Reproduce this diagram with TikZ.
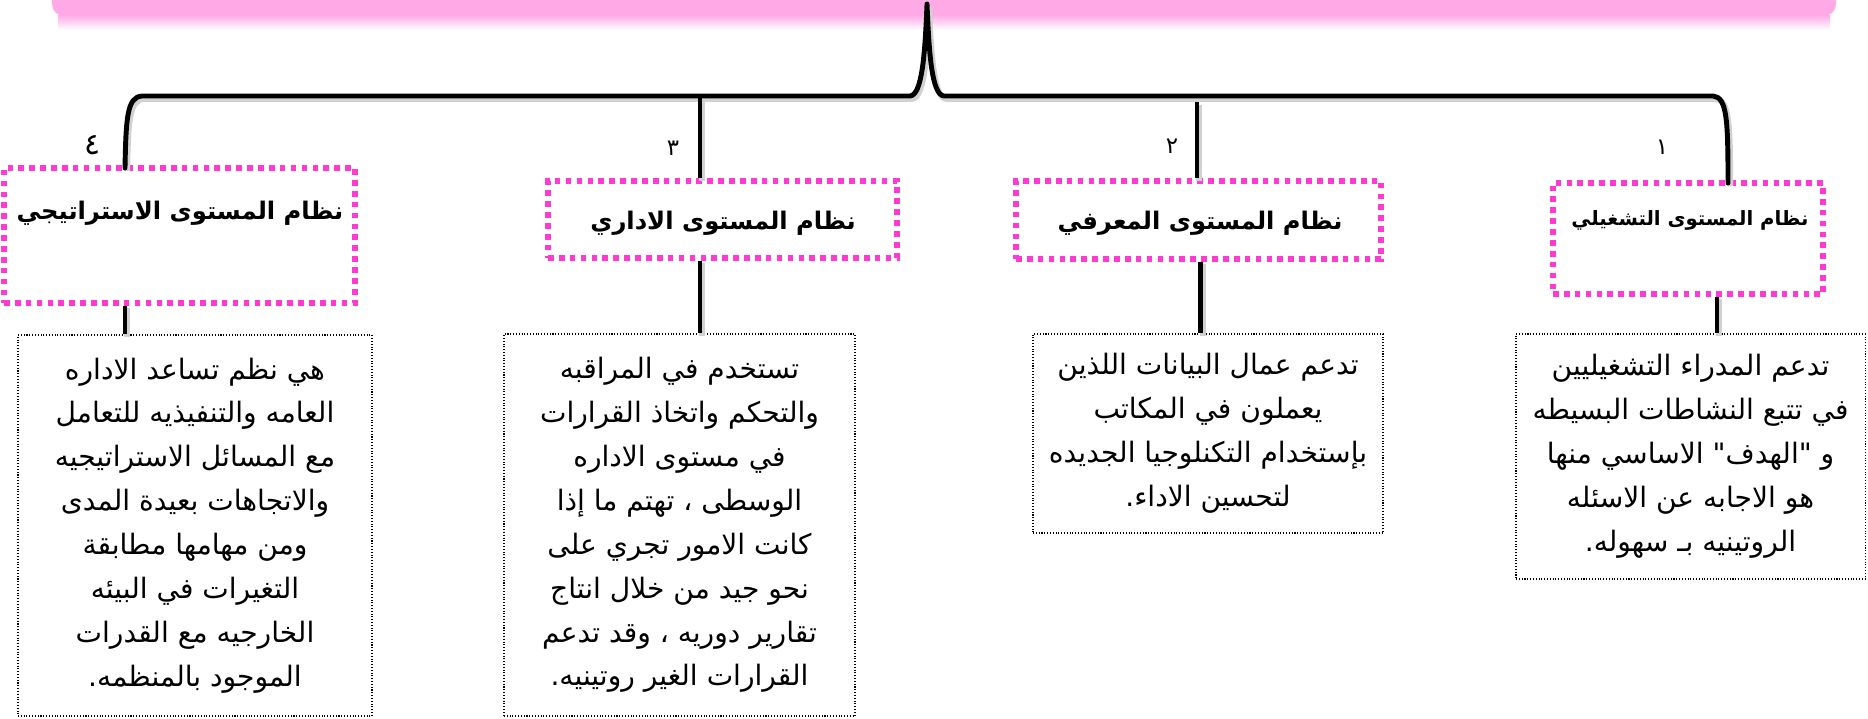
\documentclass[tikz,border=0pt]{standalone}
\usepackage{fontspec}
\newfontfamily\arabicfont[Script=Arabic]{DejaVu Sans}
\TeXXeTstate=1
\newlength{\unitpx}
\setlength{\unitpx}{0.02cm}
\newcommand{\ar}[1]{\beginR #1\endR}
\definecolor{pinkbar}{RGB}{255,170,230}
\definecolor{pinkdot}{RGB}{255,58,208}

\begin{document}
\begin{tikzpicture}[x=0.02cm,y=-0.02cm,
  titlebox/.style={draw=pinkdot,line width=3pt,dash pattern=on 3.2pt off 3pt,inner sep=0pt},
  titletext/.style={font=\arabicfont\bfseries\fontsize{13.8}{16}\selectfont,inner sep=0pt},
  descbox/.style={draw,densely dotted,line width=0.6pt,align=center,inner sep=0pt,font=\arabicfont\fontsize{16}{25}\selectfont},
  num/.style={font=\arabicfont\fontsize{13}{15}\selectfont,inner sep=0pt},
  conn/.style={line width=2.8pt,preaction={draw=black!18,line width=3.4pt,transform canvas={xshift=1.2pt,yshift=-1.6pt}}}]
    \useasboundingbox (0,0) rectangle (1868,718);
    \fill[pinkbar,rounded corners=12\unitpx] (52,-30) rectangle (1836,16);
    \shade[top color=pinkbar,bottom color=white] (58,15) rectangle (1830,30);
    \node[titlebox,minimum width=351\unitpx,minimum height=135\unitpx] (t4) at (179.5,235.5) {};
    \node[titlebox,minimum width=349\unitpx,minimum height=77\unitpx] (t3) at (722.5,219.5) {};
    \node[titlebox,minimum width=365\unitpx,minimum height=78\unitpx] (t2) at (1198.5,220) {};
    \node[titlebox,minimum width=270\unitpx,minimum height=111\unitpx] (t1) at (1688,238.5) {};
    \node[titletext] (t4txt) at (180,213) {\ar{نظام المستوى الاستراتيجي}};
    \node[titletext] (t3txt) at (723,223) {\ar{نظام المستوى الاداري}};
    \node[titletext] (t2txt) at (1200,223) {\ar{نظام المستوى المعرفي}};
    \node[titletext,font=\arabicfont\bfseries\fontsize{11.2}{13}\selectfont] (t1txt) at (1690,220) {\ar{نظام المستوى التشغيلي}};
    \node[num,font=\arabicfont\fontsize{17}{20}\selectfont] (n4) at (93,145) {٤};
    \node[num] (n3) at (673,148) {٣};
    \node[num] (n2) at (1172,146) {٢};
    \node[num] (n1) at (1662,147) {١};
    \node[descbox,minimum width=354\unitpx,minimum height=381\unitpx] (d4) at (195,525.5) {\ar{هي نظم تساعد الاداره}\\\ar{العامه والتنفيذيه للتعامل}\\\ar{مع المسائل الاستراتيجيه}\\\ar{والاتجاهات بعيدة المدى}\\\ar{ومن مهامها مطابقة}\\\ar{التغيرات في البيئه}\\\ar{الخارجيه مع القدرات}\\\ar{الموجود بالمنظمه.}};
    \node[descbox,minimum width=351\unitpx,minimum height=382\unitpx] (d3) at (679.5,525) {\ar{تستخدم في المراقبه}\\\ar{والتحكم واتخاذ القرارات}\\\ar{في مستوى الاداره}\\\ar{الوسطى ، تهتم ما إذا}\\\ar{كانت الامور تجري على}\\\ar{نحو جيد من خلال انتاج}\\\ar{تقارير دوريه ، وقد تدعم}\\\ar{القرارات الغير روتينيه.}};
    \node[descbox,minimum width=350\unitpx,minimum height=199\unitpx] (d2) at (1208,433.5) {\ar{تدعم عمال البيانات اللذين}\\\ar{يعملون في المكاتب}\\\ar{بإستخدام التكنلوجيا الجديده}\\\ar{لتحسين الاداء.}};
    \node[descbox,minimum width=349\unitpx,minimum height=245\unitpx] (d1) at (1690.5,456.5) {\ar{تدعم المدراء التشغيليين}\\\ar{في تتبع النشاطات البسيطه}\\\ar{و "الهدف" الاساسي منها}\\\ar{هو الاجابه عن الاسئله}\\\ar{الروتينيه بـ سهوله.}};
    \coordinate (tip) at (927,4);
    \coordinate (leg4) at (125,168);
    \coordinate (leg1) at (1728,183);
    \coordinate (bar3) at (700,96);
    \coordinate (bar2) at (1197,102);
    \draw[conn,line join=round,line cap=round] (leg4) .. controls (126,118) and (127,97) .. (142,96) -- (910,96) .. controls (922,95) and (925,55) .. (tip) .. controls (929,55) and (932,95) .. (944,96) -- (1713,96) .. controls (1727,97) and (1728,120) .. (leg1);
    \draw[conn] (bar3) -- (bar3 |- t3.north);
    \draw[conn] (bar2) -- (bar2 |- t2.north);
    \draw[conn] (leg4 |- t4.south) -- (leg4 |- d4.north);
    \draw[conn] (bar3 |- t3.south) -- (bar3 |- d3.north);
    \draw[conn] ([xshift=2\unitpx]t2.south) -- ([xshift=2\unitpx]d2.north -| t2.south);
    \draw[conn] ([xshift=29\unitpx]t1.south) -- ([xshift=29\unitpx]t1.south |- d1.north);
\end{tikzpicture}
\end{document}
